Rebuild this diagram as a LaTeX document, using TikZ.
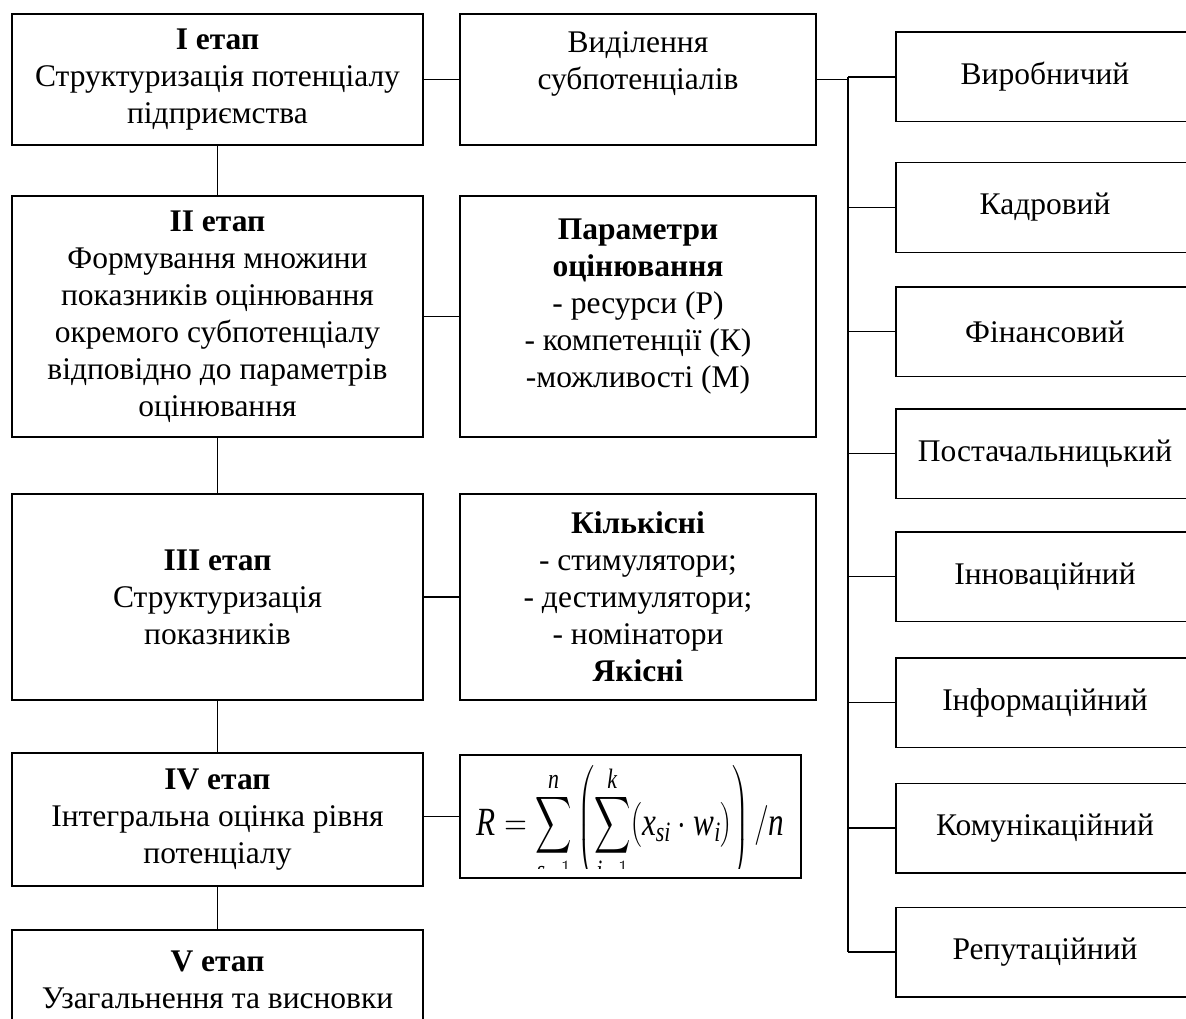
\RequirePackage{fix-cm}
\documentclass[tikz,border=0pt]{standalone}
\usepackage{amsmath}
\usepackage{fontspec}
\setmainfont{Liberation Serif}
\newcommand{\bigsum}{\mathop{\vcenter{\hbox{\scalebox{1.3}[1.6]{$\displaystyle\sum$}}}}\limits}
\begin{document}
\begin{tikzpicture}[x=1pt, y=-1pt,
    box/.style={draw, line width=1.5pt, align=center, inner sep=0pt,
        font=\fontsize{31.5}{37}\selectfont},
    stagebox/.style={box, minimum width=411pt},
    midbox/.style={box, minimum width=356pt},
    subbox/.style={box, minimum width=298pt, minimum height=89.5pt},
    link/.style={line width=1.3pt}]
    \useasboundingbox (0,0) rectangle (1186,1019);
    \clip (0,0) rectangle (1186,1019);

    % Etapy
    \node[stagebox, minimum height=131pt] (et1) at (217.5,79.5)
        {\textbf{I етап}\\Структуризація потенціалу\\підприємства};
    \node[stagebox, minimum height=241pt] (et2) at (217.5,316.5)
        {\textbf{II етап}\\Формування множини\\показників оцінювання\\окремого субпотенціалу\\відповідно до параметрів\\оцінювання};
    \node[stagebox, minimum height=206pt] (et3) at (217.5,597)
        {\textbf{III етап}\\Структуризація\\показників};
    \node[stagebox, minimum height=133pt] (et4) at (217.5,819.5)
        {\textbf{IV етап}\\Інтегральна оцінка рівня\\потенціалу};
    \node[stagebox, minimum height=100pt] (et5) at (217.5,980)
        {\textbf{V етап}\\Узагальнення та висновки};

    % Serednia kolonka
    \node[midbox, minimum height=131pt] (vyd) at (638,79.5)
        {Виділення\\субпотенціалів\\\mbox{}};
    \node[midbox, minimum height=241pt] (param) at (638,316.5)
        {\textbf{Параметри}\\\textbf{оцінювання}\\- ресурси (Р)\\- компетенції (К)\\-можливості (М)\\[-10pt]\mbox{}};
    \node[midbox, minimum height=206pt] (kilk) at (638,597)
        {\textbf{Кількісні}\\- стимулятори;\\- дестимулятори;\\- номінатори\\\textbf{Якісні}};
    \node[box, minimum width=341pt, minimum height=123pt] (formula) at (630.5,816.5) {};
    \begin{scope}
        \clip (formula.north west) rectangle ([yshift=10pt]formula.south east);
        \node[anchor=base, inner sep=0pt] (formtext) at (630.5,835)
            {\fontsize{40}{48}\selectfont\scalebox{0.78}[1]{$\displaystyle
            \textit{R} = \bigsum_{\textit{s}=1}^{\textit{n}}\left(\bigsum_{\textit{i}=1}^{\textit{k}}
            \bigl(\textit{x}_{\textit{si}}\cdot\textit{w}_{\textit{i}}\bigr)\right)/\textit{n}$}};
    \end{scope}

    % Subpotentsialy
    \node[subbox] (r1) at (1045,77) {Виробничий};
    \node[subbox] (r2) at (1045,207.5) {Кадровий};
    \node[subbox] (r3) at (1045,331.5) {Фінансовий};
    \node[subbox] (r4) at (1045,453.5) {Постачальницький};
    \node[subbox] (r5) at (1045,576.5) {Інноваційний};
    \node[subbox] (r6) at (1045,702.5) {Інформаційний};
    \node[subbox] (r7) at (1045,828) {Комунікаційний};
    \node[subbox] (r8) at (1045,952) {Репутаційний};

    % Zviazky
    \draw[link] (et1) -- (et2);
    \draw[link] (et2) -- (et3);
    \draw[link] (et3) -- (et4);
    \draw[link] (et4) -- (et5);
    \draw[link] (et1) -- (vyd);
    \draw[link] (et2) -- (param);
    \draw[link] (et3) -- (kilk);
    \draw[link] (formula.west -| et4.east) -- (formula.west);

    % Shyna
    \coordinate (bus) at (848,0);
    \draw[link] (vyd) -- (vyd -| bus);
    \draw[link] (bus |- r1.west) -- (bus |- r8.west);
    \draw[line width=2.6pt] (bus |- r1.west) -- (r1.west);
    \draw[link] (bus |- r2.west) -- (r2.west);
    \draw[link] (bus |- r3.west) -- (r3.west);
    \draw[link] (bus |- r4.west) -- (r4.west);
    \draw[link] (bus |- r5.west) -- (r5.west);
    \draw[link] (bus |- r6.west) -- (r6.west);
    \draw[link] (bus |- r7.west) -- (r7.west);
    \draw[link] (bus |- r8.west) -- (r8.west);
\end{tikzpicture}
\end{document}
